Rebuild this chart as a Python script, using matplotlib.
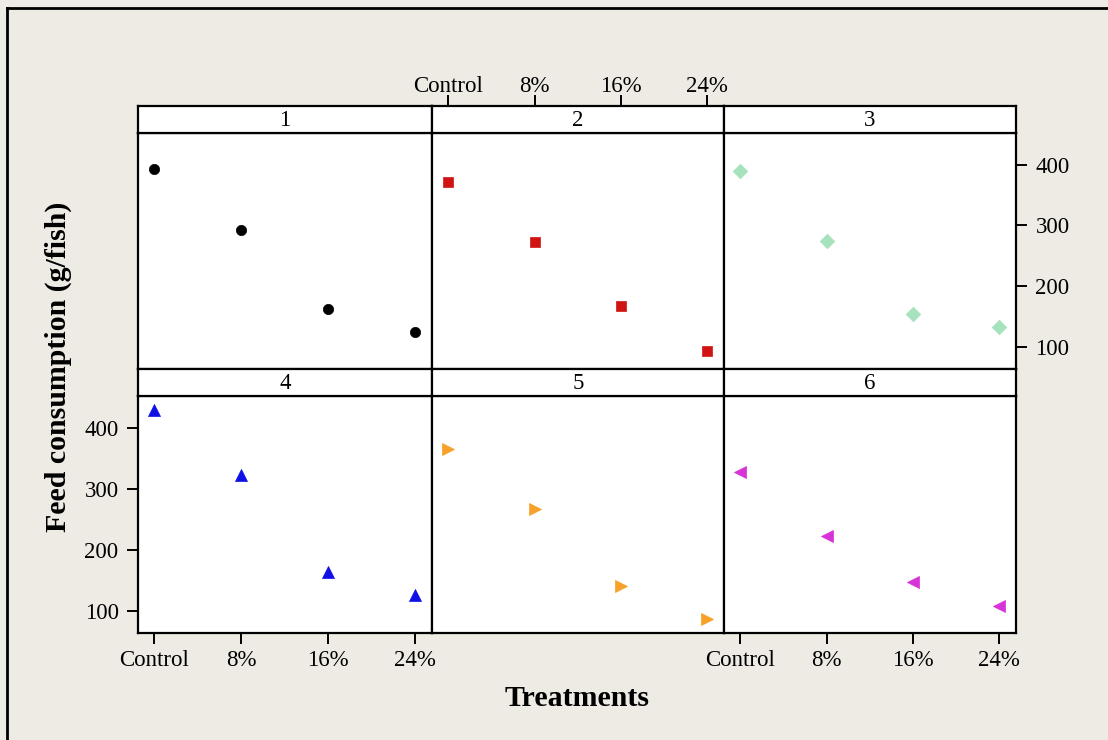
import numpy as np
import matplotlib.pyplot as plt
from matplotlib.lines import Line2D

plt.rcParams['font.family'] = ['Liberation Serif', 'DejaVu Serif']

treatments = ['Control', '8%', '16%', '24%']
panel_names = ['1', '2', '3', '4', '5', '6']
consumption = {
    '1': [393, 292, 163, 125],
    '2': [372, 273, 168, 94],
    '3': [390, 275, 155, 133],
    '4': [429, 322, 164, 127],
    '5': [365, 267, 141, 87],
    '6': [327, 223, 147, 109],
}
markers = ['o', 's', 'D', '^', '>', '<']
colors = ['#000000', '#D01414', '#A6E3BD', '#1010E6', '#F7A12A', '#D633D8']
sizes = [55, 45, 55, 75, 75, 75]

W, H = 1108, 740
bg = '#EEEAE4'
fig = plt.figure(figsize=(W / 100, H / 100), dpi=100, facecolor=bg)

# frame top/left only (rest is cropped in reference)
fig.add_artist(Line2D([7 / W, 7 / W], [0, 1 - 8 / H], transform=fig.transFigure, color='k', lw=2))
fig.add_artist(Line2D([7 / W, 1], [1 - 8 / H, 1 - 8 / H], transform=fig.transFigure, color='k', lw=2))

xs = [138, 432, 724, 1016]
rows = [(106, 133, 369), (369, 396, 633)]
xlim = (-0.19, 3.2)
tick_kw = dict(length=8, width=1.4, labelsize=16.5, pad=6, direction='out')


def fx(p):
    return p / W


def fy(p):
    return 1 - p / H


xpos = np.arange(len(treatments))
for i, name in enumerate(panel_names):
    r, c = divmod(i, 3)
    st, sb, pb = rows[r]
    x0, x1 = xs[c], xs[c + 1]
    ax = fig.add_axes([fx(x0), fy(pb), (x1 - x0) / W, (pb - sb) / H])
    ax.scatter(xpos, consumption[name], marker=markers[i], s=sizes[i],
               color=colors[i], edgecolors=colors[i], linewidths=0.5, zorder=3)
    ax.set_xlim(*xlim)
    ax.set_ylim(64, 452)
    ax.set_facecolor('white')
    for sp in ax.spines.values():
        sp.set_linewidth(1.6)
    ax.set_xticks(xpos)
    ax.set_yticks([100, 200, 300, 400])
    ax.tick_params(bottom=False, top=False, left=False, right=False,
                   labelbottom=False, labeltop=False, labelleft=False, labelright=False,
                   **tick_kw)
    ax.set_xticklabels(treatments)
    if i in (3, 5):
        ax.tick_params(axis='x', bottom=True, labelbottom=True, pad=4)
    if i == 2:
        ax.tick_params(axis='y', right=True, labelright=True)
    if i == 3:
        ax.tick_params(axis='y', left=True, labelleft=True)

    sax = fig.add_axes([fx(x0), fy(sb), (x1 - x0) / W, (sb - st) / H])
    sax.set_xlim(*xlim)
    sax.set_yticks([])
    sax.set_xticks([])
    if i == 1:
        # top axis of the grid sits above the strip
        sax.set_xticks(xpos)
        sax.set_xticklabels(treatments)
        sax.tick_params(axis='x', bottom=False, labelbottom=False, top=True, labeltop=True, **tick_kw)
        sax.tick_params(axis='x', pad=-1.5)
    sax.set_facecolor('white')
    for sp in sax.spines.values():
        sp.set_linewidth(1.6)
    sax.text(0.5, 0.45, name, ha='center', va='center', fontsize=16.5, transform=sax.transAxes)

fig.text(fx(58), fy(367), 'Feed consumption (g/fish)', rotation=90, ha='center', va='center',
         fontsize=21.5, fontweight='bold')
fig.text(fx(577), fy(698), 'Treatments', ha='center', va='center', fontsize=21.5, fontweight='bold')

fig.savefig('out.png', dpi=100, facecolor=bg)
